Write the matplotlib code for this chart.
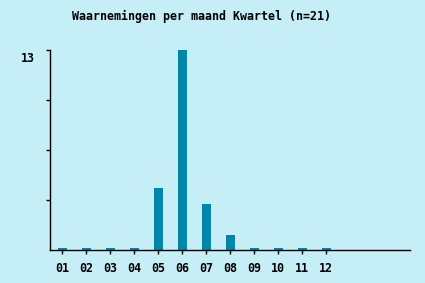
import matplotlib
matplotlib.use("Agg")
import matplotlib.pyplot as plt
import matplotlib.transforms as mtransforms
import numpy as np

months = ["01", "02", "03", "04", "05", "06", "07", "08", "09", "10", "11", "12"]
counts = [0, 0, 0, 0, 4, 13, 3, 1, 0, 0, 0, 0]
title = "Waarnemingen per maand Kwartel (n=21)"
ymax = 13

bg = "#c6eef7"
bar_color = "#0086a8"
font = dict(family="DejaVu Sans Mono", weight="bold", size=8.4)

fig = plt.figure(figsize=(4.25, 2.83), dpi=100, facecolor=bg)
ax = fig.add_axes([50/425, 33/283, 360/425, 200/283])
ax.set_facecolor(bg)

x = np.arange(len(months))
heights = np.maximum(np.array(counts, dtype=float), 0.1)
ax.bar(x, heights, width=0.375, color=bar_color, linewidth=0)

ax.set_xlim(-0.5, 14.5)
ax.set_ylim(0, ymax)

for s in ["top", "right"]:
    ax.spines[s].set_visible(False)
for s in ["left", "bottom"]:
    ax.spines[s].set_linewidth(1)
    ax.spines[s].set_color("black")

ax.set_xticks(x)
ax.set_xticklabels(months, **font)
ax.tick_params(axis="x", length=3, width=1, pad=6)

ax.set_yticks([ymax * f for f in (0.25, 0.5, 0.75, 1.0)])
ax.set_yticklabels([])
ax.tick_params(axis="y", length=3, width=1)
offset = mtransforms.ScaledTranslation(0, -2/100, fig.dpi_scale_trans)
ax.text(-0.043, ymax, str(ymax), transform=ax.get_yaxis_transform() + offset,
        ha="right", va="top", **font)

fig.text(202/425, 1 - 16/283, title, ha="center", va="center", **font)

fig.savefig("out.png", dpi=100, facecolor=bg)
